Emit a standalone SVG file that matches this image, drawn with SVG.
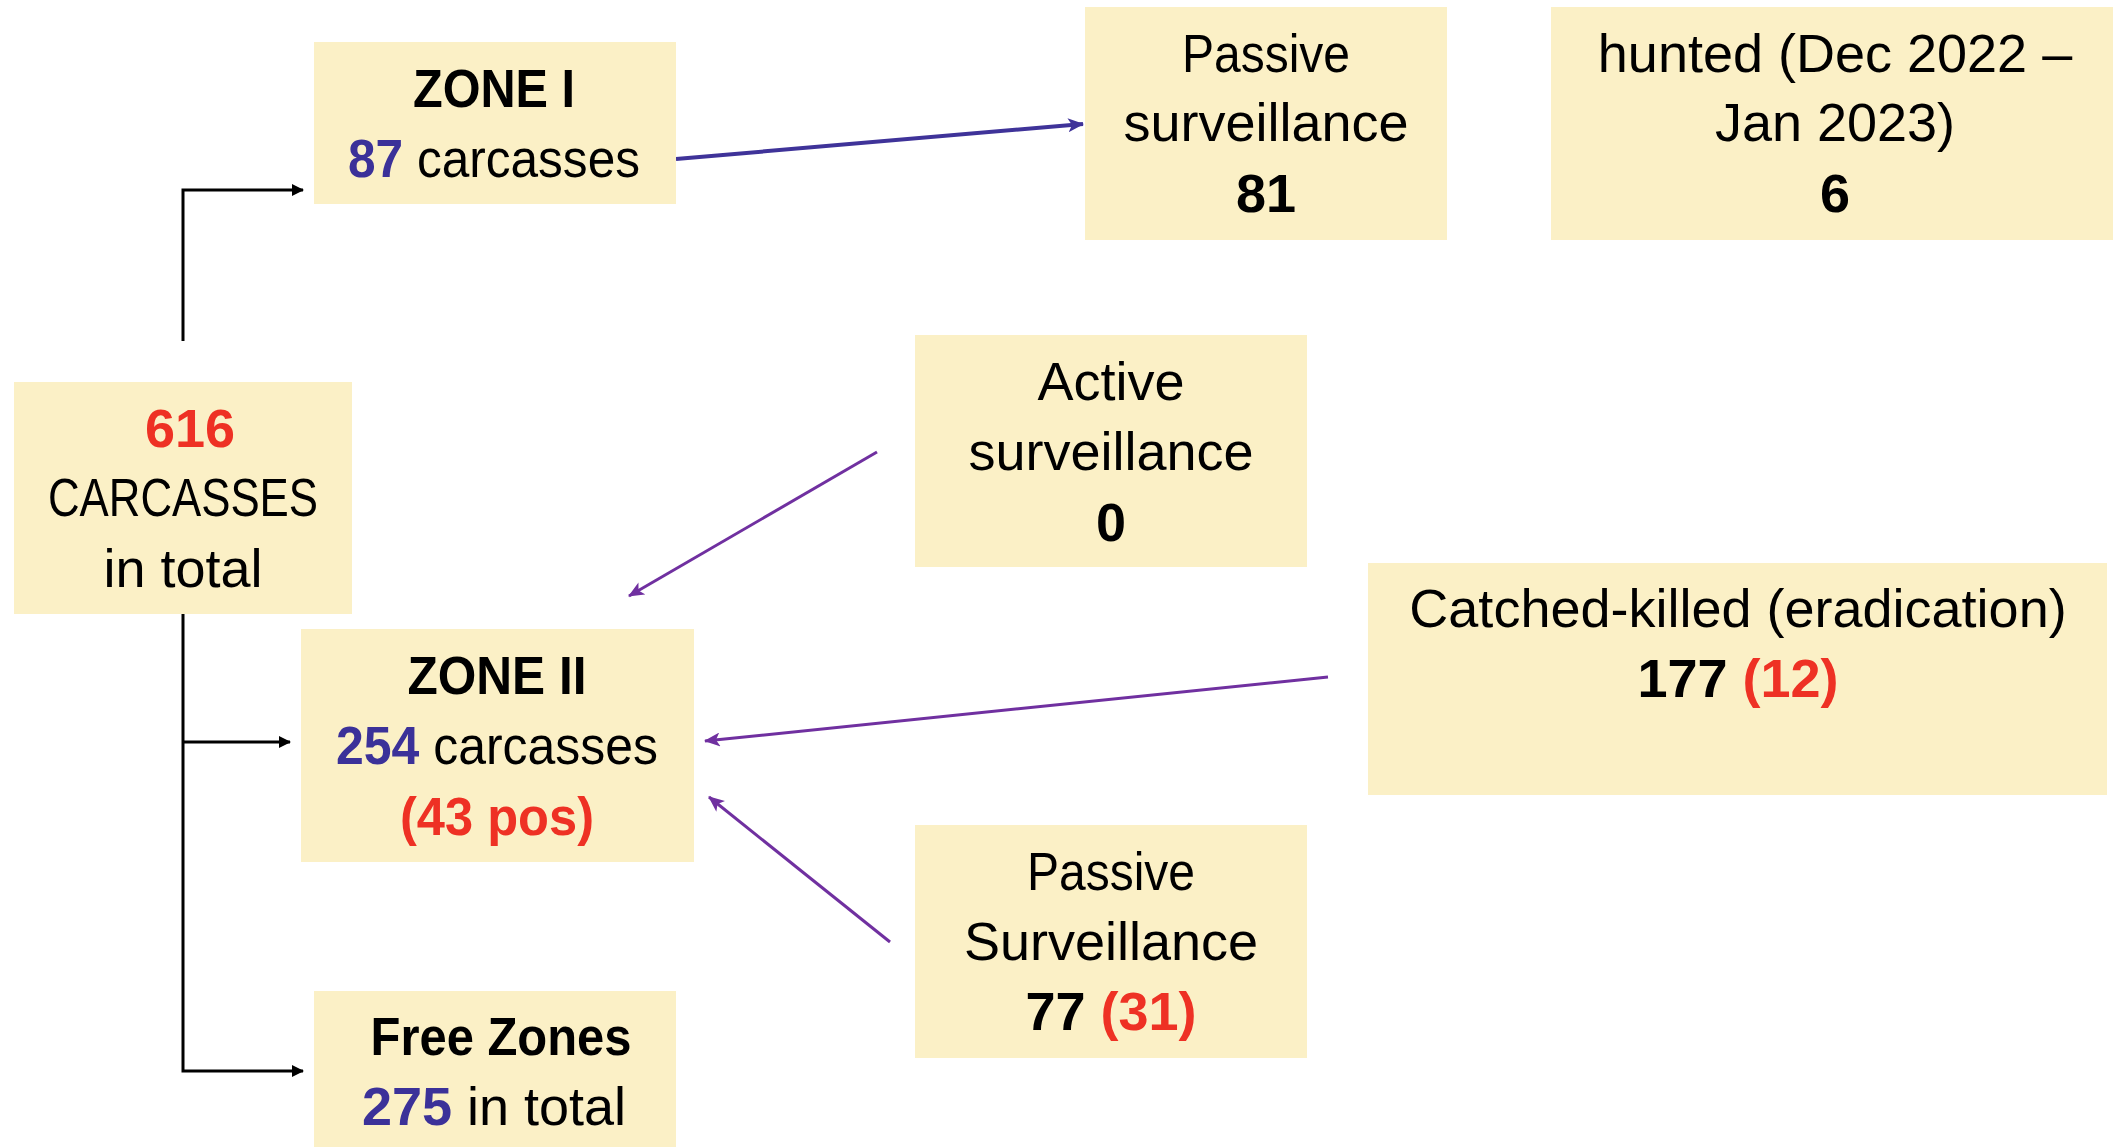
<svg xmlns="http://www.w3.org/2000/svg" width="2113" height="1147" viewBox="0 0 2113 1147">
<style>
.box{fill:#FBF0C6}
text{font-family:"Liberation Sans",Arial,sans-serif;font-size:54px;text-anchor:middle;fill:#000}
.b{font-weight:bold}
.blue{fill:#3B3199;font-weight:bold}
.red{fill:#EE3124;font-weight:bold}
.k{fill:none;stroke:#000;stroke-width:3}
.p{fill:none;stroke:#7030A0;stroke-width:3}
.pb{fill:none;stroke:#3F3399;stroke-width:4}
</style>
<defs>
<marker id="ak" markerWidth="12" markerHeight="12" refX="11" refY="6" orient="auto" markerUnits="userSpaceOnUse" viewBox="0 0 12 12"><path d="M0,0 L12,6 L0,12 z" fill="#000"/></marker>
<marker id="ap" markerWidth="16" markerHeight="14" refX="15" refY="7" orient="auto" markerUnits="userSpaceOnUse" viewBox="0 0 16 14"><path d="M0,0 L16,7 L0,14 L4,7 z" fill="#7030A0"/></marker>
<marker id="ab" markerWidth="16" markerHeight="14" refX="15" refY="7" orient="auto" markerUnits="userSpaceOnUse" viewBox="0 0 16 14"><path d="M0,0 L16,7 L0,14 L4,7 z" fill="#3F3399"/></marker>
</defs>
<rect width="2113" height="1147" fill="#fff"/>
<g id="connectors">
<path class="k" d="M183,341 V190 H303" marker-end="url(#ak)"/>
<path class="k" d="M183,614 V1071 H303" marker-end="url(#ak)"/>
<path class="k" d="M183,742 H290" marker-end="url(#ak)"/>
<path class="pb" d="M676,159 L1083,124" marker-end="url(#ab)"/>
<path class="p" d="M877,452 L629,596" marker-end="url(#ap)"/>
<path class="p" d="M1328,677 L705,741" marker-end="url(#ap)"/>
<path class="p" d="M890,942 L709,797" marker-end="url(#ap)"/>
</g>
<g id="total">
<rect class="box" x="14" y="382" width="338" height="232"/>
<text x="190" y="447" class="red">616</text>
<text x="183" y="516" textLength="270" lengthAdjust="spacingAndGlyphs">CARCASSES</text>
<text x="183" y="587">in total</text>
</g>
<g id="zone1">
<rect class="box" x="314" y="42" width="362" height="162"/>
<text x="494" y="107" class="b" textLength="162" lengthAdjust="spacingAndGlyphs">ZONE I</text>
<text x="494" y="177" textLength="292" lengthAdjust="spacingAndGlyphs"><tspan class="blue">87</tspan> carcasses</text>
</g>
<g id="passive1">
<rect class="box" x="1085" y="7" width="362" height="233"/>
<text x="1266" y="72" textLength="168" lengthAdjust="spacingAndGlyphs">Passive</text>
<text x="1266" y="141">surveillance</text>
<text x="1266" y="212" class="b">81</text>
</g>
<g id="hunted">
<rect class="box" x="1551" y="7" width="562" height="233"/>
<text x="1835" y="72">hunted (Dec 2022 –</text>
<text x="1835" y="141">Jan 2023)</text>
<text x="1835" y="212" class="b">6</text>
</g>
<g id="active">
<rect class="box" x="915" y="335" width="392" height="232"/>
<text x="1111" y="400">Active</text>
<text x="1111" y="470">surveillance</text>
<text x="1111" y="541" class="b">0</text>
</g>
<g id="zone2">
<rect class="box" x="301" y="629" width="393" height="233"/>
<text x="497" y="694" class="b" textLength="179" lengthAdjust="spacingAndGlyphs">ZONE II</text>
<text x="497" y="764" textLength="322" lengthAdjust="spacingAndGlyphs"><tspan class="blue">254</tspan> carcasses</text>
<text x="497" y="835" class="red" textLength="194" lengthAdjust="spacingAndGlyphs">(43 pos)</text>
</g>
<g id="catched">
<rect class="box" x="1368" y="563" width="739" height="232"/>
<text x="1738" y="627">Catched-killed (eradication)</text>
<text x="1738" y="697"><tspan class="b">177</tspan> <tspan class="red">(12)</tspan></text>
</g>
<g id="passive2">
<rect class="box" x="915" y="825" width="392" height="233"/>
<text x="1111" y="890" textLength="168" lengthAdjust="spacingAndGlyphs">Passive</text>
<text x="1111" y="960">Surveillance</text>
<text x="1111" y="1030"><tspan class="b">77</tspan> <tspan class="red">(31)</tspan></text>
</g>
<g id="free">
<rect class="box" x="314" y="991" width="362" height="156"/>
<text x="501" y="1055" class="b" textLength="261" lengthAdjust="spacingAndGlyphs">Free Zones</text>
<text x="494" y="1125"><tspan class="blue">275</tspan> in total</text>
</g>
</svg>
